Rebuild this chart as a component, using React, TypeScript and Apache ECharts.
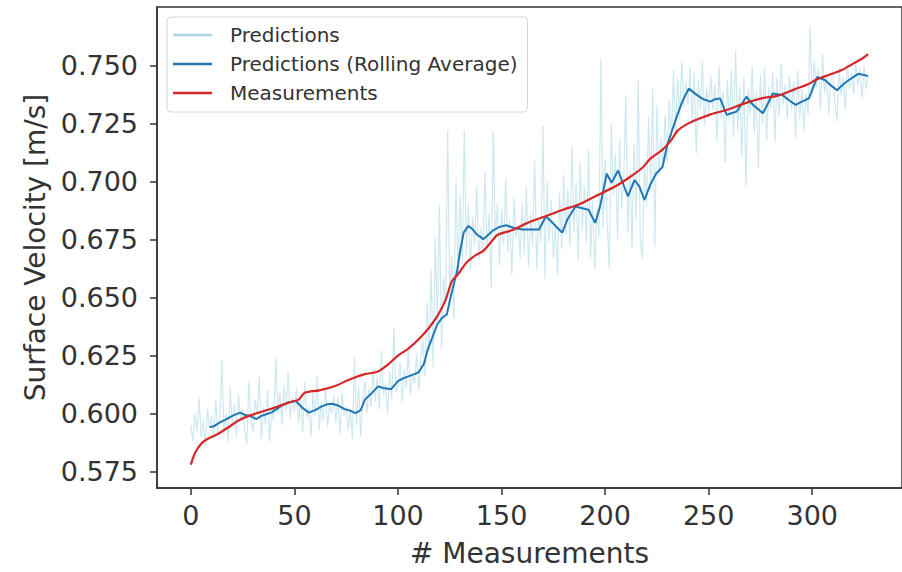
import React, { useEffect, useRef } from "react";
import * as echarts from "echarts";

const xTicks = [0, 50, 100, 150, 200, 250, 300];
const yTicks = [0.575, 0.6, 0.625, 0.65, 0.675, 0.7, 0.725, 0.75];

// Raw predictions, one per measurement index 0..327
const predictions = [
  0.595, 0.588, 0.600, 0.592, 0.607, 0.590, 0.597, 0.586, 0.602, 0.594,
  0.599, 0.589, 0.606, 0.592, 0.598, 0.623, 0.591, 0.600, 0.588, 0.611,
  0.596, 0.604, 0.590, 0.608, 0.597, 0.602, 0.593, 0.587, 0.614, 0.598,
  0.592, 0.606, 0.600, 0.616, 0.589, 0.603, 0.595, 0.610, 0.588, 0.601,
  0.597, 0.624, 0.600, 0.609, 0.595, 0.612, 0.601, 0.618, 0.598, 0.607,
  0.601, 0.611, 0.596, 0.606, 0.592, 0.614, 0.598, 0.603, 0.590, 0.609,
  0.599, 0.616, 0.593, 0.605, 0.597, 0.611, 0.594, 0.604, 0.600, 0.608,
  0.596, 0.607, 0.591, 0.609, 0.599, 0.603, 0.593, 0.601, 0.589, 0.624,
  0.595, 0.612, 0.590, 0.606, 0.614, 0.600, 0.611, 0.603, 0.619, 0.605,
  0.616, 0.602, 0.627, 0.608, 0.613, 0.600, 0.618, 0.606, 0.637, 0.609,
  0.612, 0.622, 0.605, 0.619, 0.611, 0.628, 0.608, 0.617, 0.613, 0.626,
  0.610, 0.624, 0.632, 0.616, 0.648, 0.627, 0.662, 0.620, 0.676, 0.640,
  0.690, 0.628, 0.659, 0.646, 0.722, 0.652, 0.668, 0.641, 0.700, 0.660,
  0.694, 0.665, 0.722, 0.668, 0.690, 0.662, 0.685, 0.672, 0.698, 0.666,
  0.680, 0.668, 0.704, 0.671, 0.686, 0.654, 0.722, 0.675, 0.690, 0.664,
  0.688, 0.672, 0.701, 0.670, 0.684, 0.660, 0.693, 0.676, 0.682, 0.667,
  0.690, 0.669, 0.698, 0.663, 0.686, 0.672, 0.709, 0.662, 0.684, 0.674,
  0.724, 0.658, 0.700, 0.674, 0.692, 0.667, 0.681, 0.660, 0.695, 0.671,
  0.703, 0.677, 0.697, 0.672, 0.715, 0.678, 0.700, 0.666, 0.708, 0.679,
  0.698, 0.674, 0.714, 0.667, 0.692, 0.662, 0.689, 0.676, 0.753, 0.680,
  0.710, 0.682, 0.663, 0.725, 0.694, 0.712, 0.675, 0.718, 0.688, 0.702,
  0.737, 0.678, 0.705, 0.671, 0.716, 0.684, 0.744, 0.675, 0.667, 0.709,
  0.689, 0.728, 0.696, 0.740, 0.672, 0.733, 0.702, 0.719, 0.708, 0.729,
  0.708, 0.735, 0.716, 0.748, 0.721, 0.745, 0.727, 0.752, 0.732, 0.743,
  0.733, 0.749, 0.726, 0.747, 0.712, 0.744, 0.731, 0.752, 0.724, 0.741,
  0.728, 0.746, 0.731, 0.742, 0.717, 0.750, 0.727, 0.739, 0.708, 0.744,
  0.726, 0.748, 0.719, 0.757, 0.722, 0.741, 0.711, 0.745, 0.698, 0.740,
  0.729, 0.750, 0.721, 0.739, 0.706, 0.746, 0.725, 0.749, 0.718, 0.741,
  0.732, 0.747, 0.717, 0.745, 0.728, 0.751, 0.733, 0.742, 0.727, 0.746,
  0.731, 0.743, 0.719, 0.748, 0.727, 0.740, 0.722, 0.738, 0.729, 0.767,
  0.736, 0.752, 0.740, 0.749, 0.731, 0.755, 0.738, 0.746, 0.729, 0.744,
  0.748, 0.733, 0.726, 0.749, 0.737, 0.745, 0.731, 0.751, 0.740, 0.747,
  0.738, 0.752, 0.741, 0.749, 0.736, 0.750, 0.740, 0.745,
];

// Rolling average of predictions, [index, value]
const rollingAverage = [
  [9, 0.5941], [11, 0.5945], [14, 0.5962], [17, 0.5975], [20, 0.599], [23.7, 0.6004],
  [26, 0.5995], [28.4, 0.599], [31.6, 0.5976], [34, 0.599], [36.4, 0.5997], [39, 0.6005],
  [41.2, 0.6018], [44, 0.6035], [47, 0.6048], [50.7, 0.6054], [53.8, 0.6025], [57, 0.6004],
  [60, 0.6015], [63.4, 0.6032], [66, 0.604], [68.2, 0.6042], [71, 0.6035], [74, 0.602],
  [77, 0.6012], [79.5, 0.6002], [82, 0.6015], [84, 0.606], [87, 0.6085], [90.4, 0.6117],
  [93, 0.611], [96.7, 0.6105], [100, 0.614], [102, 0.615], [104.7, 0.6159], [107.9, 0.617],
  [110, 0.6178], [112.6, 0.6216], [114.5, 0.628], [116, 0.6314], [119, 0.6385], [121, 0.641],
  [123.6, 0.6428], [125.3, 0.6498], [127, 0.656], [128.5, 0.6611], [130, 0.67], [131.7, 0.678],
  [134, 0.6809], [136, 0.6795], [138, 0.6773], [141.2, 0.6752], [143.5, 0.677], [146, 0.679],
  [149, 0.6805], [152.3, 0.6812], [156, 0.68], [160.3, 0.6794], [164, 0.6794], [168.2, 0.6794],
  [171.4, 0.6851], [174.6, 0.6823], [177, 0.68], [179.3, 0.678], [182, 0.684], [185.7, 0.6893],
  [189, 0.6885], [192, 0.6879], [195.2, 0.6822], [197.5, 0.689], [200.8, 0.7034], [203.1, 0.6995],
  [206.3, 0.7048], [211, 0.6936], [214.2, 0.7007], [216.5, 0.698], [219, 0.6921], [222, 0.699],
  [224.6, 0.7034], [227.7, 0.7063], [230.1, 0.7161], [232.5, 0.7225], [234.9, 0.7288], [237.5, 0.735],
  [240.4, 0.7401], [244.4, 0.7373], [247.5, 0.7355], [250.8, 0.7345], [253, 0.7355], [255.5, 0.7359],
  [258.7, 0.7288], [261, 0.7295], [263.5, 0.7302], [266, 0.7335], [268.2, 0.7366], [271.4, 0.7331],
  [273.5, 0.7315], [276.2, 0.7295], [278.5, 0.7335], [281, 0.738], [285.7, 0.7373], [289, 0.735],
  [292, 0.7331], [295, 0.7345], [298.4, 0.7359], [302.4, 0.7451], [306.3, 0.7437], [309, 0.7415],
  [312, 0.7394], [315, 0.742], [317.5, 0.7437], [320, 0.7452], [322.2, 0.7465], [325, 0.746],
  [327, 0.7455],
];

const measurements = [
  [0, 0.578], [2, 0.583], [5, 0.587], [8, 0.589], [12.6, 0.591], [18, 0.594], [23, 0.597],
  [28, 0.599], [35, 0.601], [42, 0.603], [48, 0.605], [52, 0.606], [55, 0.609], [62, 0.61],
  [70, 0.612], [76, 0.6145], [84, 0.617], [90, 0.618], [95, 0.621], [100, 0.625], [105, 0.628],
  [110, 0.632], [115, 0.637], [119, 0.642], [123, 0.649], [126, 0.657], [129, 0.66], [133, 0.665],
  [137, 0.668], [141, 0.67], [145, 0.674], [148, 0.677], [155, 0.679], [162, 0.682], [171, 0.685],
  [180, 0.688], [187, 0.69], [196, 0.694], [205, 0.698], [212, 0.702], [218, 0.706], [222, 0.71],
  [228, 0.714], [232, 0.718], [235, 0.722], [240, 0.725], [245, 0.727], [251, 0.729], [259, 0.731],
  [265, 0.733], [270, 0.7345], [276, 0.736], [283, 0.737], [292, 0.74], [298, 0.742], [302, 0.744],
  [308, 0.746], [314, 0.748], [320, 0.751], [324, 0.753], [327, 0.755],
];

const FONT = "DejaVu Sans";
const AX = "#333333";

export default function App() {
  const ref = useRef<HTMLDivElement>(null);
  useEffect(() => {
    if (!ref.current) return;
    const chart = echarts.init(ref.current, undefined, { renderer: "svg" });
    chart.setOption({
      animation: false,
      backgroundColor: "#ffffff",
      textStyle: { fontFamily: FONT },
      grid: {
        left: 157,
        top: 7,
        width: 754,
        height: 490,
        show: true,
        borderColor: AX,
        borderWidth: 1.5,
        backgroundColor: "transparent",
      },
      legend: {
        orient: "vertical",
        left: 167,
        top: 17,
        padding: [8, 10, 9, 6],
        itemGap: 9,
        itemWidth: 39,
        itemHeight: 2.5,
        icon: "rect",
        backgroundColor: "rgba(255,255,255,0.85)",
        borderColor: "#d6d6d6",
        borderWidth: 1,
        borderRadius: 4,
        textStyle: {
          fontFamily: FONT,
          fontSize: 20,
          color: "#333",
          lineHeight: 20,
          padding: [0, 0, 0, 13],
        },
        data: ["Predictions", "Predictions (Rolling Average)", "Measurements"],
      },
      xAxis: {
        type: "value",
        min: -16.35,
        max: 343.35,
        name: "# Measurements",
        nameLocation: "middle",
        nameGap: 51,
        nameTextStyle: { fontFamily: FONT, fontSize: 28, color: AX },
        splitLine: { show: false },
        axisLine: { show: true, onZero: false, lineStyle: { color: AX, width: 1.5 } },
        axisTick: {
          show: true,
          length: 7,
          inside: false,
          customValues: xTicks,
          lineStyle: { color: AX, width: 1.5 },
        },
        axisLabel: {
          customValues: xTicks,
          fontFamily: FONT,
          fontSize: 27,
          color: AX,
          margin: 14,
        },
      },
      yAxis: {
        type: "value",
        min: 0.5679,
        max: 0.7753,
        name: "Surface Velocity [m/s]",
        nameLocation: "middle",
        nameGap: 108,
        nameRotate: 90,
        nameTextStyle: { fontFamily: FONT, fontSize: 28, color: AX },
        splitLine: { show: false },
        axisLine: { show: true, onZero: false, lineStyle: { color: AX, width: 1.5 } },
        axisTick: {
          show: true,
          length: 7,
          customValues: yTicks,
          lineStyle: { color: AX, width: 1.5 },
        },
        axisLabel: {
          customValues: yTicks,
          fontFamily: FONT,
          fontSize: 27,
          color: AX,
          margin: 19,
          formatter: (v: number) => v.toFixed(3),
        },
      },
      series: [
        {
          name: "Predictions",
          type: "line",
          data: predictions.map((v, i) => [i, v]),
          showSymbol: false,
          symbol: "none",
          lineStyle: { color: "#add8e6", width: 1.2, opacity: 0.6 },
          itemStyle: { color: "#add8e6" },
          z: 1,
        },
        {
          name: "Predictions (Rolling Average)",
          type: "line",
          data: rollingAverage,
          showSymbol: false,
          symbol: "none",
          lineStyle: { color: "#1f77b4", width: 2 },
          itemStyle: { color: "#1f77b4" },
          z: 2,
        },
        {
          name: "Measurements",
          type: "line",
          data: measurements,
          showSymbol: false,
          symbol: "none",
          smooth: 0.3,
          lineStyle: { color: "#d62728", width: 2.2 },
          itemStyle: { color: "#d62728" },
          z: 3,
        },
      ],
    });
    return () => chart.dispose();
  }, []);
  return (
    <div
      ref={ref}
      style={{ position: "fixed", left: 0, top: 0, width: 902, height: 572, background: "#fff" }}
    />
  );
}
